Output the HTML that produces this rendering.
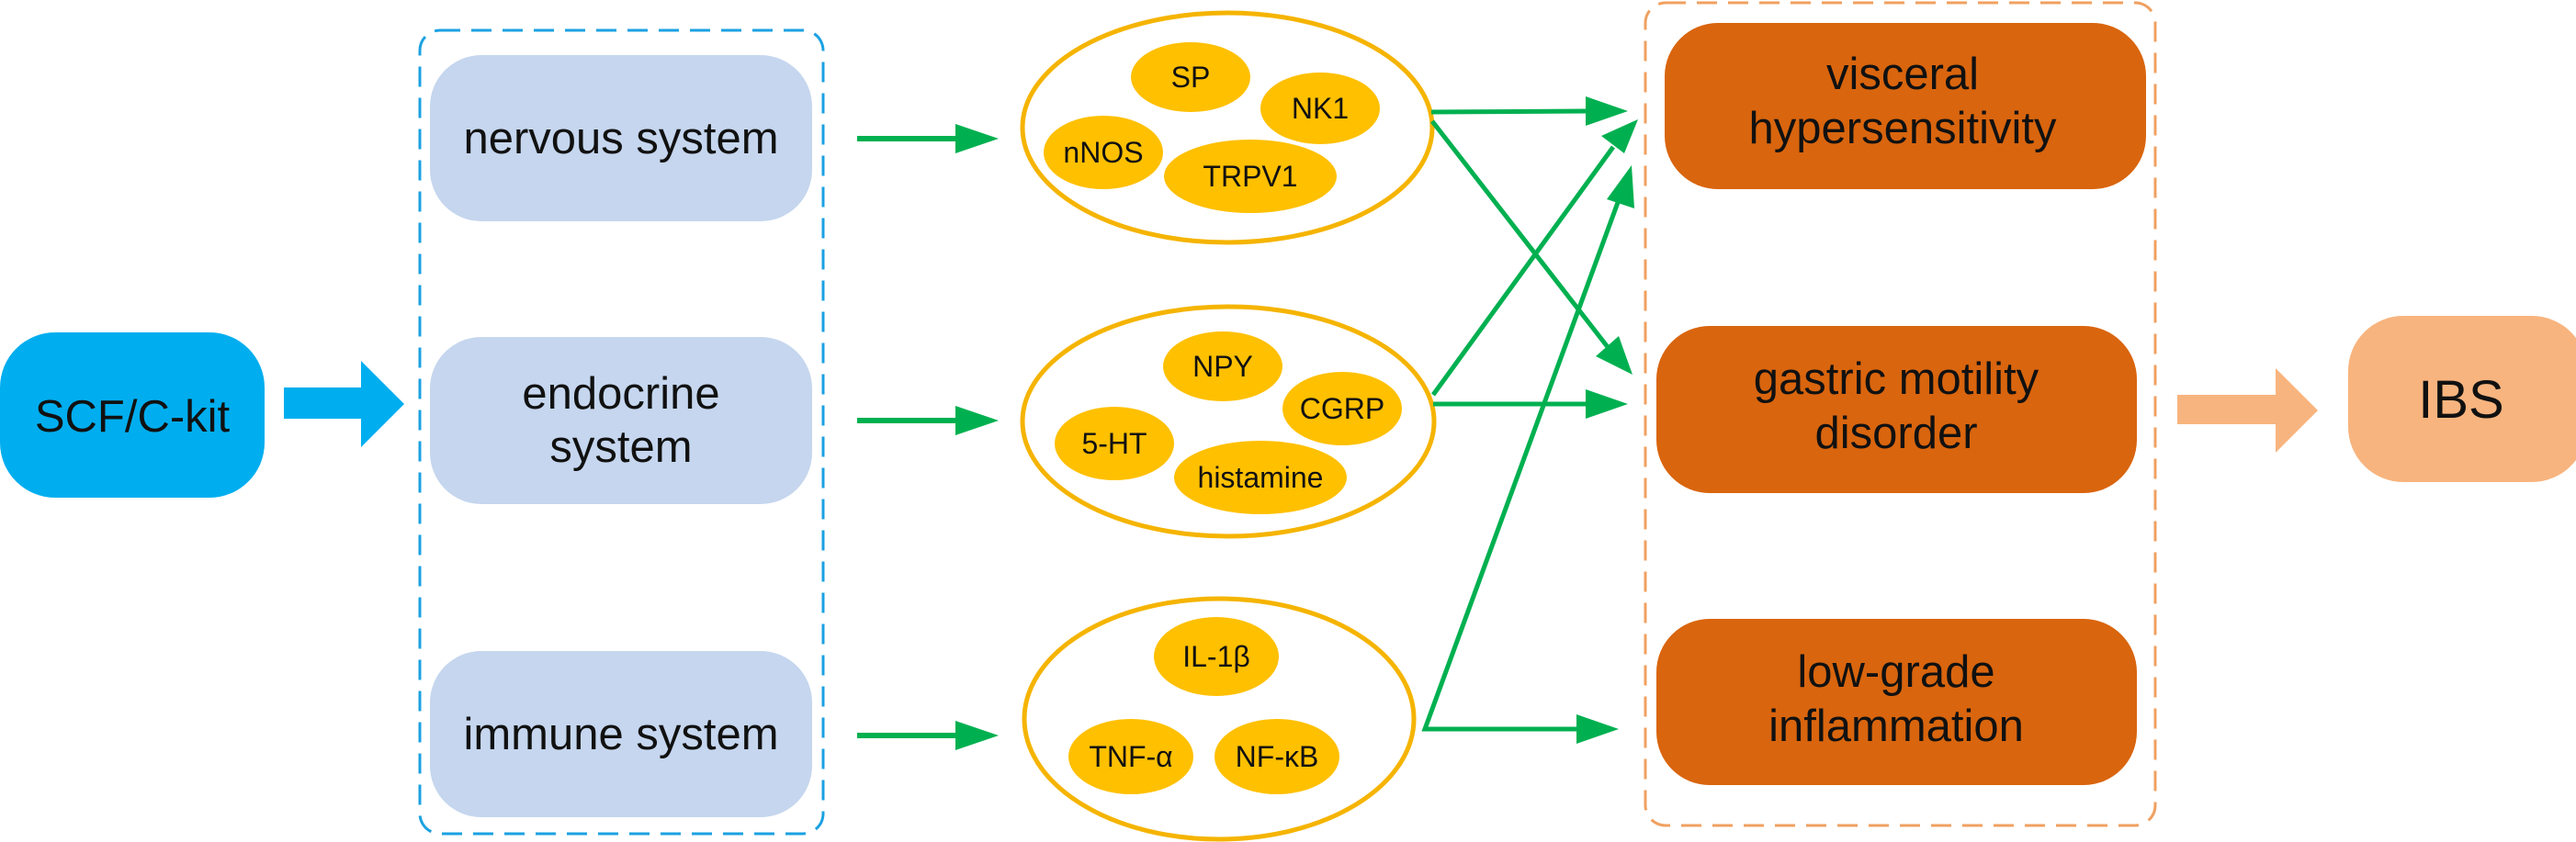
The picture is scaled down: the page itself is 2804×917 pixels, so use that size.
<!DOCTYPE html>
<html><head><meta charset="utf-8"><style>
html,body{margin:0;padding:0;background:#fff;}
svg{display:block;}
text{font-family:"Liberation Sans",Arial,sans-serif;fill:#111;}
</style></head><body>
<svg width="2804" height="917" viewBox="0 0 2804 917" xmlns="http://www.w3.org/2000/svg">
<defs>
<marker id="ah" markerWidth="10" markerHeight="8" refX="10" refY="4" orient="auto" markerUnits="userSpaceOnUse" viewBox="0 0 10 8">
</marker>
</defs>
<!-- SCF box -->
<rect x="0" y="362" width="288" height="180" rx="60" fill="#00AEEF"/>
<text x="144" y="470" font-size="49" text-anchor="middle">SCF/C-kit</text>
<!-- blue arrow -->
<polygon points="309,422 393,422 393,393 440,440 393,487 393,456 309,456" fill="#00AEEF"/>
<!-- blue dashed box -->
<rect x="457" y="33" width="439" height="875" rx="22" fill="none" stroke="#1BA1E2" stroke-width="3" stroke-dasharray="22,12"/>
<rect x="468" y="60" width="416" height="181" rx="56" fill="#C5D6EE"/>
<rect x="468" y="367" width="416" height="182" rx="56" fill="#C5D6EE"/>
<rect x="468" y="709" width="416" height="181" rx="56" fill="#C5D6EE"/>
<text x="676" y="167" font-size="49" text-anchor="middle">nervous system</text>
<text x="676" y="445" font-size="49" text-anchor="middle">endocrine</text>
<text x="676" y="503" font-size="49" text-anchor="middle">system</text>
<text x="676" y="816" font-size="49" text-anchor="middle">immune system</text>
<!-- green arrows left -->
<g fill="#00B050" stroke="none">
<rect x="933" y="148" width="110" height="6"/><polygon points="1040,135 1087,151 1040,167"/>
<rect x="933" y="455" width="110" height="6"/><polygon points="1040,442 1087,458 1040,474"/>
<rect x="933" y="798" width="110" height="6"/><polygon points="1040,785 1087,801 1040,817"/>
</g>
<!-- outer ellipses -->
<g fill="none" stroke="#F5B400" stroke-width="5">
<ellipse cx="1336" cy="139" rx="223" ry="125"/>
<ellipse cx="1337" cy="459" rx="224" ry="125"/>
<ellipse cx="1327" cy="783" rx="212" ry="131"/>
</g>
<!-- inner ellipses -->
<g fill="#FFC000">
<ellipse cx="1296" cy="84" rx="65" ry="38"/>
<ellipse cx="1437" cy="118" rx="65" ry="39"/>
<ellipse cx="1201" cy="166" rx="65" ry="40"/>
<ellipse cx="1361" cy="192" rx="94" ry="40"/>
<ellipse cx="1331" cy="399" rx="65" ry="38"/>
<ellipse cx="1461" cy="445" rx="65" ry="40"/>
<ellipse cx="1213" cy="483" rx="65" ry="40"/>
<ellipse cx="1372" cy="520" rx="94" ry="40"/>
<ellipse cx="1324" cy="715" rx="68" ry="43"/>
<ellipse cx="1231" cy="824" rx="68" ry="41"/>
<ellipse cx="1390" cy="824" rx="68" ry="41"/>
</g>
<g font-size="32" text-anchor="middle">
<text x="1296" y="95">SP</text>
<text x="1437" y="129">NK1</text>
<text x="1201" y="177">nNOS</text>
<text x="1361" y="203">TRPV1</text>
<text x="1331" y="410">NPY</text>
<text x="1461" y="456">CGRP</text>
<text x="1213" y="494">5-HT</text>
<text x="1372" y="531">histamine</text>
<text x="1324" y="726">IL-1β</text>
<text x="1231" y="835">TNF-α</text>
<text x="1390" y="835">NF-κB</text>
</g>
<!-- crossing arrows -->
<g stroke="#00B050" stroke-width="5" fill="none">
<line x1="1558" y1="122" x2="1728" y2="121"/>
<line x1="1559" y1="132" x2="1750" y2="378"/>
<line x1="1560" y1="430" x2="1756" y2="160"/>
<line x1="1560" y1="440" x2="1728" y2="440"/>
<polyline points="1763,215 1551,794 1720,794"/>
</g>
<g fill="#00B050">
<polygon points="1726,105 1772,121 1726,137"/>
<polygon points="1737,388 1777,408 1762,366"/>
<polygon points="1743,148 1783,130 1768,167"/>
<polygon points="1726,424 1772,440 1726,456"/>
<polygon points="1749,217 1776,180 1779,227"/>
<polygon points="1716,778 1762,794 1716,810"/>
</g>
<!-- orange dashed box -->
<rect x="1791" y="3" width="555" height="896" rx="22" fill="none" stroke="#F0A060" stroke-width="3" stroke-dasharray="22,12"/>
<rect x="1812" y="25" width="524" height="181" rx="58" fill="#D9650E"/>
<rect x="1803" y="355" width="523" height="182" rx="58" fill="#D9650E"/>
<rect x="1803" y="674" width="523" height="181" rx="58" fill="#D9650E"/>
<g font-size="49" text-anchor="middle">
<text x="2071" y="97">visceral</text>
<text x="2071" y="156">hypersensitivity</text>
<text x="2064" y="429">gastric motility</text>
<text x="2064" y="488">disorder</text>
<text x="2064" y="748">low-grade</text>
<text x="2064" y="807">inflammation</text>
</g>
<!-- peach arrow -->
<polygon points="2370,430 2477,430 2477,401 2523,447 2477,493 2477,462 2370,462" fill="#F8B47E"/>
<rect x="2556" y="344" width="260" height="181" rx="60" fill="#F8B47E"/>
<text x="2679" y="455" font-size="58" text-anchor="middle">IBS</text>
</svg>
</body></html>
